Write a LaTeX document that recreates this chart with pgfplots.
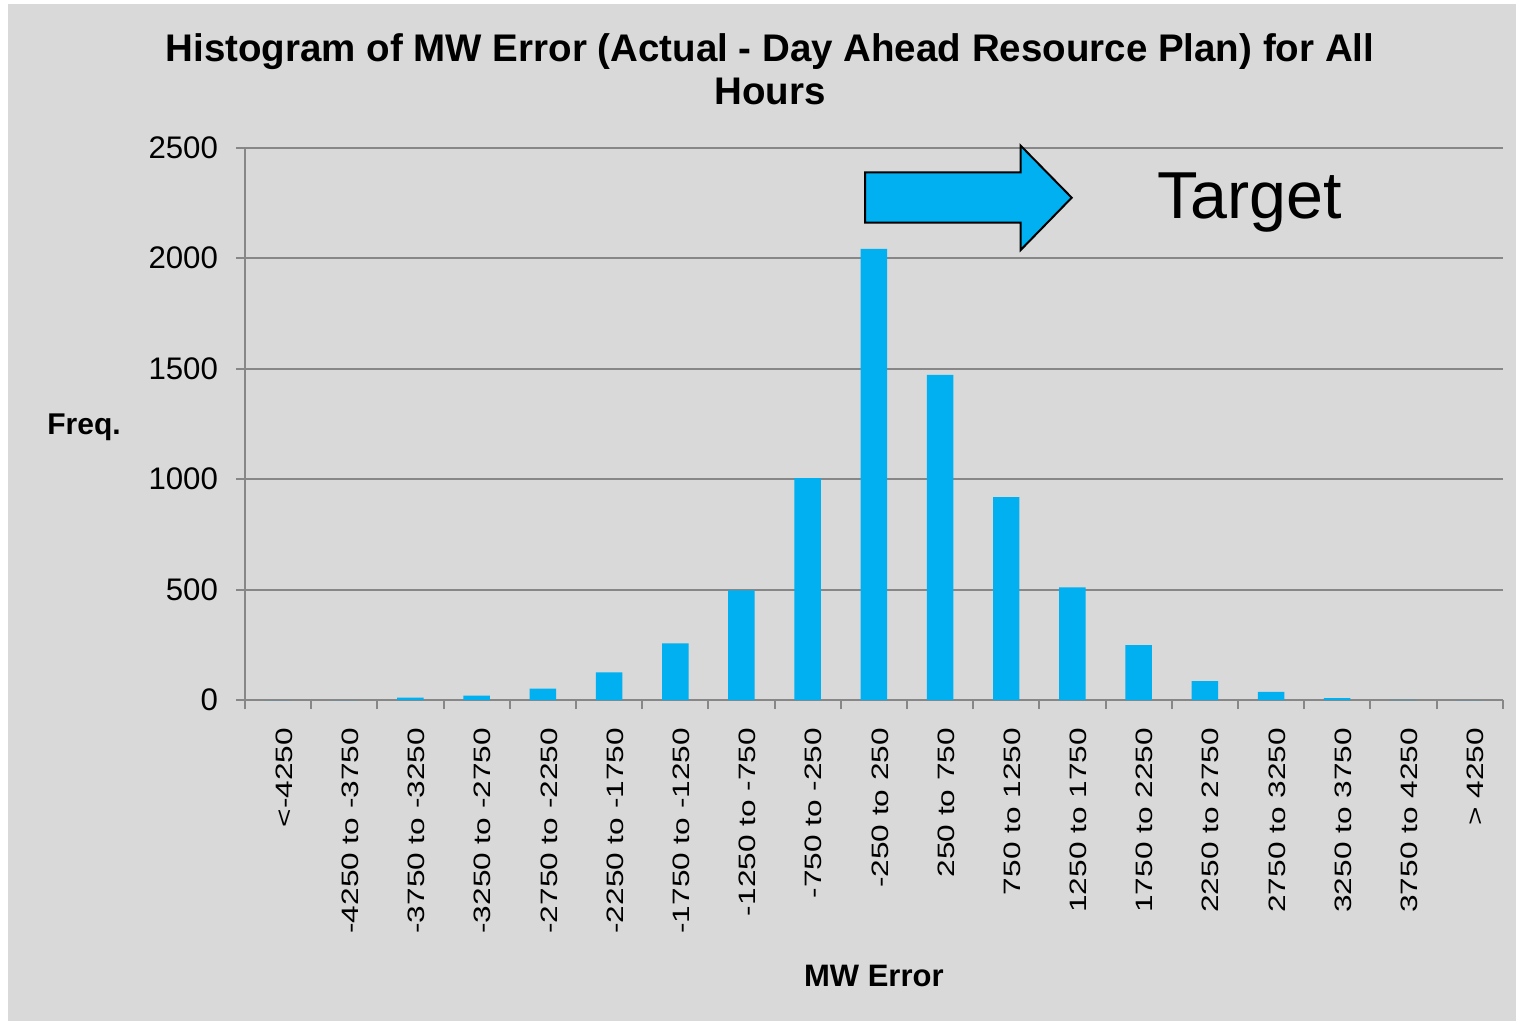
\documentclass[border=0pt]{standalone}
\usepackage{fontspec}
\setmainfont{Liberation Sans}
\usepackage{graphicx}
\usepackage{pgfplots}
\pgfplotsset{compat=1.18}
\definecolor{bg}{HTML}{D9D9D9}
\definecolor{barc}{HTML}{00B0F0}
\definecolor{gridc}{HTML}{878787}
\newcommand{\tl}[1]{\scalebox{1}[0.75]{#1}}
\begin{document}
\begin{tikzpicture}
\fill[white] (0,0) rectangle (758pt,-510.5pt);
\fill[bg] (4pt,-2pt) rectangle (758pt,-510.5pt);
\begin{axis}[
  at={(122.5pt,-350pt)}, anchor=south west,
  scale only axis, width=628.85pt, height=276.15pt,
  xmin=-0.5, xmax=18.5, ymin=0, ymax=2500,
  ybar, bar width=0.4,
  axis x line*=bottom, axis y line*=left,
  axis line style={gridc, line width=1pt},
  tick align=outside,
  major tick length=4.5pt,
  tick style={gridc, line width=1pt},
  xtick={-0.5,0.5,...,18.5},
  xticklabels={{},{},{},{},{},{},{},{},{},{},{},{},{},{},{},{},{},{},{},{}},
  extra x ticks={0,1,...,18},
  extra x tick style={major tick length=0pt, tick style={draw=none}},
  extra x tick labels={\tl{<-4250},\tl{-4250 to -3750},\tl{-3750 to -3250},\tl{-3250 to -2750},\tl{-2750 to -2250},\tl{-2250 to -1750},\tl{-1750 to -1250},\tl{-1250 to -750},\tl{-750 to -250},\tl{-250 to 250},\tl{250 to 750},\tl{750 to 1250},\tl{1250 to 1750},\tl{1750 to 2250},\tl{2250 to 2750},\tl{2750 to 3250},\tl{3250 to 3750},\tl{3750 to 4250},\tl{> 4250}},
  xticklabel style={xshift=3pt, yshift=-10.5pt, rotate=90, anchor=east, font=\fontsize{15.8}{18}\selectfont},
  ytick={0,500,...,2500},
  yticklabel style={xshift=-5.5pt, font=\fontsize{15.6}{18}\selectfont},
  /pgf/number format/assume math mode=true,
  /pgf/number format/1000 sep={},
  ymajorgrids, grid style={gridc, line width=1pt},
  every axis title/.style={at={(axis description cs:0.4174,1.0791)}, anchor=base, align=center, inner sep=0pt, font=\bfseries\fontsize{19.25}{21.5}\selectfont},
  title={Histogram of MW Error (Actual - Day Ahead Resource Plan) for All\\Hours},
  every axis x label/.style={at={(axis description cs:0.5,0)}, anchor=base, yshift=-143pt, font=\bfseries\fontsize{15.5}{18}\selectfont},
  xlabel={MW Error},
  every axis y label/.style={at={(axis description cs:-0.128,0.4816)}, anchor=base, font=\bfseries\fontsize{15}{18}\selectfont},
  ylabel={Freq.},
  clip=false,
]
\addplot[fill=barc, draw=none] coordinates {
(0,0) (1,0) (2,11) (3,20) (4,52) (5,125) (6,256) (7,496) (8,1004) (9,2042)
(10,1472) (11,918) (12,510) (13,248) (14,85) (15,37) (16,9) (17,1) (18,0)};
\end{axis}
\draw[fill=barc, draw=black, line width=1pt, line join=miter]
  (432.5pt,-86.15pt) -- (510.35pt,-86.15pt) -- (510.35pt,-72.85pt) -- (535.85pt,-98.85pt)
  -- (510.35pt,-125pt) -- (510.35pt,-111.35pt) -- (432.5pt,-111.35pt) -- cycle;
\node[anchor=base west, font=\fontsize{33.2}{38}\selectfont, inner sep=0pt] at (578.5pt,-109.5pt) {Target};
\pgfresetboundingbox
\useasboundingbox (0,0) rectangle (758pt,-510.5pt);
\end{tikzpicture}
\end{document}
